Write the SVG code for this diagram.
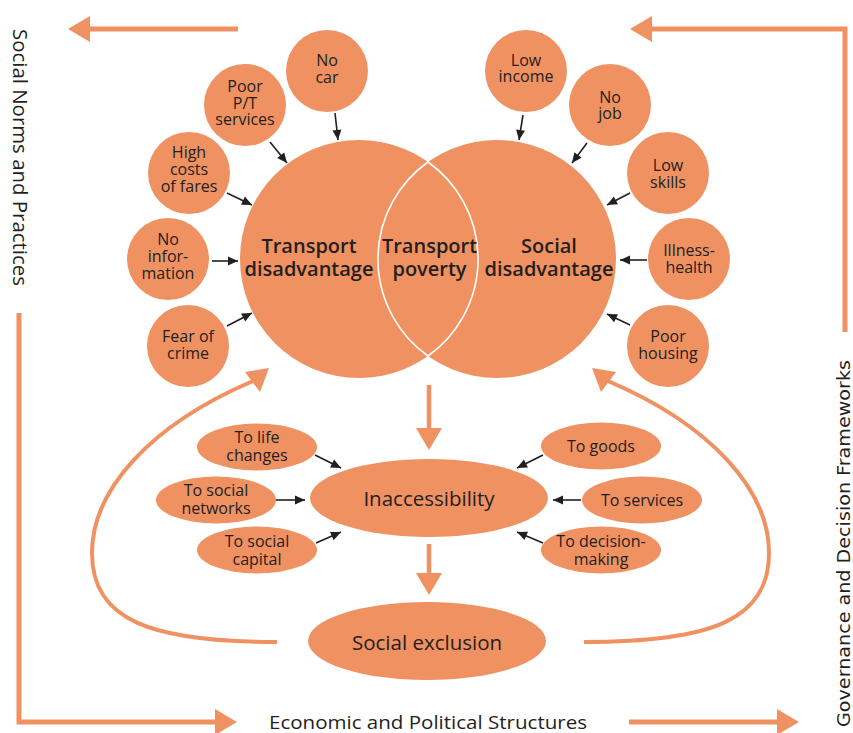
<svg xmlns="http://www.w3.org/2000/svg" width="853" height="733" viewBox="0 0 853 733">
<style>
.n{fill:#F09162}
.t{font-family:"Open Sans","Liberation Sans",sans-serif;font-size:16px;fill:#231F20;text-anchor:middle}
.big{font-size:20px;font-weight:600}
.mid{font-size:20.5px;font-weight:500}
.bl{stroke:#231F20;stroke-width:1.6;fill:none;marker-end:url(#ah)}
.or{stroke:#F09162;stroke-width:5;fill:none;stroke-linejoin:miter}
.orh{stroke:#F09162;stroke-width:4.5;fill:none;marker-end:url(#oh)}
.oc{stroke:#F09162;stroke-width:4;fill:none}
</style>
<defs>
<marker id="ah" markerUnits="userSpaceOnUse" markerWidth="11" markerHeight="10" refX="10" refY="4.5" orient="auto" overflow="visible">
<path d="M0,0 L10,4.5 L0,9 z" fill="#231F20"/>
</marker>
<marker id="oh" markerUnits="userSpaceOnUse" markerWidth="24" markerHeight="28" refX="0" refY="13" orient="auto" overflow="visible">
<path d="M0,0 L22,13 L0,26 z" fill="#F09162"/>
</marker>
</defs>
<rect width="853" height="733" fill="#FFFFFF"/>

<g id="frame-texts">
<text class="t" style="font-size:19.5px;text-anchor:start" x="13" y="29" transform="rotate(90 13 29)" textLength="257" lengthAdjust="spacingAndGlyphs">Social Norms and Practices</text>
<text style="font-family:'DejaVu Sans','Verdana',sans-serif;font-size:17px;fill:#231F20" x="-727" y="850" transform="rotate(-90)" textLength="367" lengthAdjust="spacingAndGlyphs">Governance and Decision Frameworks</text>
<text class="t" style="font-size:18px" x="428" y="729" textLength="318" lengthAdjust="spacingAndGlyphs">Economic and Political Structures</text>
</g>

<g id="venn">
<circle class="n" cx="359" cy="259" r="119"/>
<circle class="n" cx="497" cy="259" r="119"/>
<path d="M428,162 A119,119 0 0,1 428,356 A119,119 0 0,1 428,162 z" fill="none" stroke="#FFFFFF" stroke-width="1.6"/>
</g>
<g id="transport-disadvantage">
<text class="t big" x="309" y="253">Transport</text>
<text class="t big" x="309" y="276">disadvantage</text>
</g>
<g id="transport-poverty">
<text class="t big" x="429.5" y="253">Transport</text>
<text class="t big" x="429.5" y="276">poverty</text>
</g>
<g id="social-disadvantage">
<text class="t big" x="549" y="253">Social</text>
<text class="t big" x="549" y="276">disadvantage</text>
</g>

<g id="no-car"><circle class="n" cx="327" cy="71" r="41"/>
<text class="t" x="327" y="66">No</text><text class="t" x="327" y="83">car</text></g>
<g id="poor-pt"><circle class="n" cx="245" cy="105" r="41"/>
<text class="t" x="245" y="92">Poor</text><text class="t" x="245" y="108.5">P/T</text><text class="t" x="245" y="125">services</text></g>
<g id="high-costs"><circle class="n" cx="189" cy="173" r="41"/>
<text class="t" x="189" y="158">High</text><text class="t" x="189" y="175">costs</text><text class="t" x="189" y="192">of fares</text></g>
<g id="no-information"><circle class="n" cx="168" cy="259" r="41"/>
<text class="t" x="168" y="245">No</text><text class="t" x="168" y="262">infor-</text><text class="t" x="168" y="278.5">mation</text></g>
<g id="fear-of-crime"><circle class="n" cx="188" cy="346" r="41"/>
<text class="t" x="188" y="342">Fear of</text><text class="t" x="188" y="358.5">crime</text></g>

<g id="low-income"><circle class="n" cx="526" cy="71" r="41"/>
<text class="t" x="526" y="65.5">Low</text><text class="t" x="526" y="82">income</text></g>
<g id="no-job"><circle class="n" cx="610" cy="105" r="41"/>
<text class="t" x="610" y="102.5">No</text><text class="t" x="610" y="119">job</text></g>
<g id="low-skills"><circle class="n" cx="668" cy="173" r="41"/>
<text class="t" x="668" y="171">Low</text><text class="t" x="668" y="187.5">skills</text></g>
<g id="illness-health"><circle class="n" cx="689" cy="259" r="41"/>
<text class="t" x="689" y="255.5">Illness-</text><text class="t" x="689" y="272.5">health</text></g>
<g id="poor-housing"><circle class="n" cx="668" cy="346" r="41"/>
<text class="t" x="668" y="342">Poor</text><text class="t" x="668" y="358.5">housing</text></g>

<g id="inaccessibility"><ellipse class="n" cx="429" cy="498" rx="119" ry="39"/>
<text class="t mid" x="429" y="506">Inaccessibility</text></g>
<g id="social-exclusion"><ellipse class="n" cx="427" cy="641" rx="119" ry="39"/>
<text class="t mid" x="427" y="650">Social exclusion</text></g>

<g id="to-life-changes"><ellipse class="n" cx="257" cy="447" rx="60" ry="23.5"/>
<text class="t" x="257" y="443">To life</text><text class="t" x="257" y="461">changes</text></g>
<g id="to-social-networks"><ellipse class="n" cx="216" cy="500" rx="60" ry="23.5"/>
<text class="t" x="216" y="496">To social</text><text class="t" x="216" y="513.5">networks</text></g>
<g id="to-social-capital"><ellipse class="n" cx="257" cy="550" rx="60" ry="23.5"/>
<text class="t" x="257" y="547">To social</text><text class="t" x="257" y="564.5">capital</text></g>
<g id="to-goods"><ellipse class="n" cx="601" cy="446" rx="60" ry="23.5"/>
<text class="t" x="601" y="452">To goods</text></g>
<g id="to-services"><ellipse class="n" cx="642" cy="500" rx="60" ry="23.5"/>
<text class="t" x="642" y="505.5">To services</text></g>
<g id="to-decision-making"><ellipse class="n" cx="601" cy="550" rx="60" ry="23.5"/>
<text class="t" x="601" y="547">To decision-</text><text class="t" x="601" y="564.5">making</text></g>

<g id="connectors">
<path class="bl" d="M335,113 L338,140"/>
<path class="bl" d="M270,142 L287,163"/>
<path class="bl" d="M227,193 L252,205"/>
<path class="bl" d="M212,261 L238,261"/>
<path class="bl" d="M227,326 L252,313"/>
<path class="bl" d="M523,115 L519,140"/>
<path class="bl" d="M587,143 L572,163"/>
<path class="bl" d="M630,193 L607,205"/>
<path class="bl" d="M647,260 L620,260"/>
<path class="bl" d="M630,325 L607,314"/>
<path class="bl" d="M315,455 L341,468"/>
<path class="bl" d="M276,500 L305,500"/>
<path class="bl" d="M316,543 L341,532"/>
<path class="bl" d="M543,455 L517,468"/>
<path class="bl" d="M581,500 L553,500"/>
<path class="bl" d="M543,543 L517,532"/>

<path class="or" d="M238,29 L90,29" marker-end="url(#oh)"/>
<path class="or" d="M845,332 L845,29 L652,29" marker-end="url(#oh)"/>
<path class="or" d="M19,313 L19,722 L215,722" marker-end="url(#oh)"/>
<path class="or" d="M629,722 L777,722" marker-end="url(#oh)"/>
<path class="orh" d="M429,385 L429,428"/>
<path class="orh" d="M429,544 L429,573"/>

<path class="oc" d="M277,642 C150,642 92,620 92,553 C92,490 150,425 253,381"/>
<polygon points="269,368 245,372 260,392" fill="#F09162"/>
<path class="oc" d="M584,642 C711,642 769,620 769,553 C769,490 711,425 608,381"/>
<polygon points="592,368 616,372 601,392" fill="#F09162"/>
</g>
</svg>
